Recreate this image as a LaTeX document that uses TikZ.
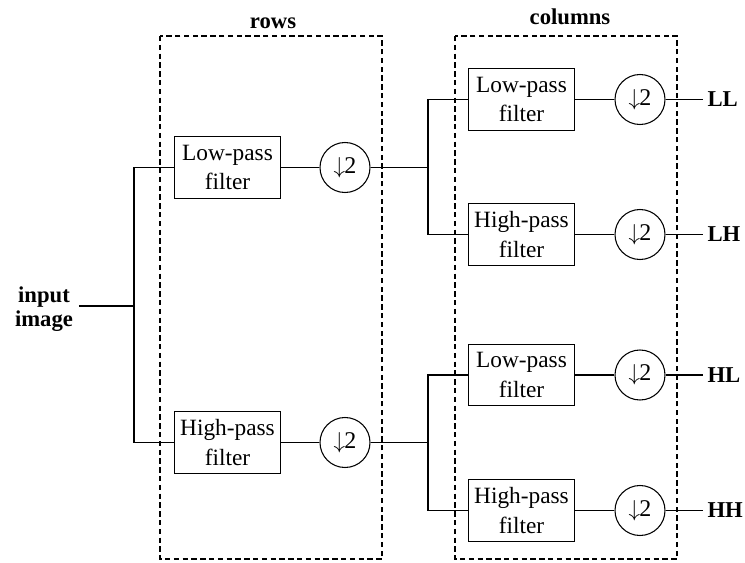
\documentclass[tikz,border=0pt]{standalone}
\usepackage{fontspec}
\setmainfont{Liberation Serif}
\newcommand{\halve}{$\downarrow$\kern-0.5pt2}
\begin{document}
\begin{tikzpicture}[x=0.75pt,y=-0.75pt,line width=0.8pt,
  filt/.style={draw,rectangle,minimum width=80pt,minimum height=46pt,inner sep=0pt,
    align=center,font=\fontsize{17.5}{22}\selectfont},
  dn/.style={draw,circle,minimum size=37.5pt,inner sep=0pt,font=\fontsize{18}{20}\selectfont},
  lbl/.style={font=\fontsize{17}{17.5}\selectfont\bfseries,align=center,inner sep=0pt},
  outlbl/.style={lbl,anchor=west,inner xsep=3pt},
  grp/.style={draw,dash pattern=on 4pt off 2.6pt}]
\useasboundingbox (0,0) rectangle (745,563);

% processing stages
\draw[grp] (160,36) rectangle (382,559);
\draw[grp] (455,36) rectangle (677,559);
\node[lbl,anchor=base] (trows) at (273,29) {rows};
\node[lbl,anchor=base] (tcols) at (570,25) {columns};

% input
\node[lbl,inner xsep=4pt] (in) at (44,309) {input\\image};
\coordinate (j0) at (134,306);

% row filtering
\node[filt] (rlp) at (227.5,167.5) {Low-pass\\filter};
\node[filt] (rhp) at (227.5,442.5) {High-pass\\filter};
\node[dn] (rd1) at (345,167.5) {\halve};
\node[dn] (rd2) at (345,442.5) {\halve};
\coordinate (j1) at (428,167.5);
\coordinate (j2) at (428,442.5);

% column filtering
\node[filt] (c1) at (521.5,99.5) {Low-pass\\filter};
\node[filt] (c2) at (521.5,234.5) {High-pass\\filter};
\node[filt] (c3) at (521.5,375) {Low-pass\\filter};
\node[filt] (c4) at (521.5,510.5) {High-pass\\filter};
\node[dn] (d1) at (640,99.5) {\halve};
\node[dn] (d2) at (640,234.5) {\halve};
\node[dn] (d3) at (640,375) {\halve};
\node[dn] (d4) at (640,510.5) {\halve};

% outputs
\node[outlbl] (LL) at (703,99.5) {LL};
\node[outlbl] (LH) at (703,234.5) {LH};
\node[outlbl] (HL) at (703,375) {HL};
\node[outlbl] (HH) at (703,510.5) {HH};

% connections
\draw (in.east|-j0) -- (j0);
\draw (j0) |- (rlp.west);
\draw (j0) |- (rhp.west);
\draw (rlp) -- (rd1);
\draw (rhp) -- (rd2);
\draw (rd1) -- (j1);
\draw (rd2) -- (j2);
\draw (j1) |- (c1.west);
\draw (j1) |- (c2.west);
\draw (j2) |- (c3.west);
\draw (j2) |- (c4.west);
\draw (c1) -- (d1);
\draw (c2) -- (d2);
\draw (c3) -- (d3);
\draw (c4) -- (d4);
\draw (d1) -- (LL);
\draw (d2) -- (LH);
\draw (d3) -- (HL);
\draw (d4) -- (HH);
\end{tikzpicture}
\end{document}
